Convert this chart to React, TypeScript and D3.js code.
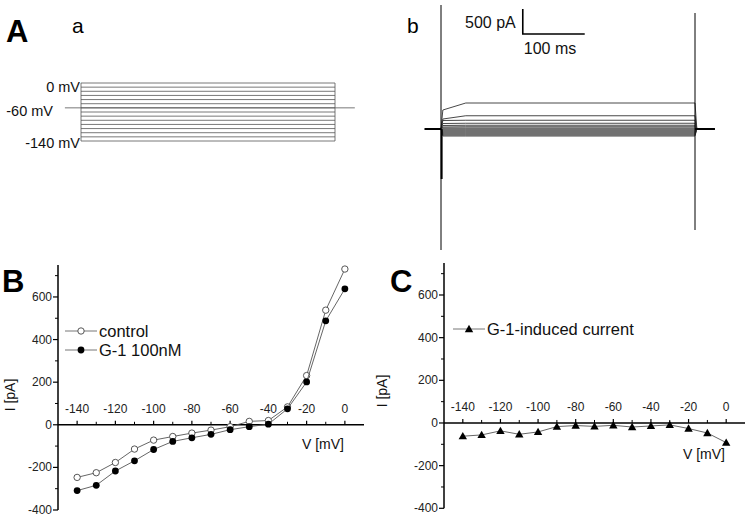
import React from 'react';
import * as d3 from 'd3';

// voltage steps of the protocol (mV)
const stepVoltages = [0, -10, -20, -30, -40, -50, -60, -70, -80, -90, -100, -110, -120, -130, -140];
const holdingVoltage = -60;

// current traces (pA): initial value after onset and steady-state value, one per step
const traceInitial = [380, 200, 170, 110, 70, 40, 20, 0, -20, -40, -60, -80, -100, -120, -140];
const traceSteady = [520, 265, 175, 115, 75, 45, 20, 0, -20, -40, -60, -80, -100, -120, -140];

// capacitive transients: [time ms, top pA, bottom pA]
const transients = [
  [0, 2480, -2420],
  [410, 2320, -2020],
];

// I-V data
const voltages = [-140, -130, -120, -110, -100, -90, -80, -70, -60, -50, -40, -30, -20, -10, 0];
const controlI = [-247, -225, -177, -114, -72, -55, -39, -25, -9, 16, 20, 84, 231, 538, 731];
const g1I = [-309, -284, -217, -169, -116, -78, -61, -45, -23, -9, 3, 75, 201, 488, 638];
const inducedI = [-62, -56, -37, -53, -42, -17, -12, -16, -11, -19, -14, -9, -26, -47, -92];

const yMajor = [-400, -200, 0, 200, 400, 600];
const yMinor = [-300, -100, 100, 300, 500, 700];
const xMajor = [-140, -120, -100, -80, -60, -40, -20, 0];
const xMinor = [-130, -110, -90, -70, -50, -30, -10];

const FONT = 'Liberation Sans, Arial, sans-serif';

type IVProps = {
  x0: number; x1: number; yTop: number; yBot: number;
  series: { values: number[]; marker: 'open' | 'filled' | 'tri' }[];
  label: string; letterX: number;
  ylabX: number; ylabY: number; vX: number; vY: number;
  legend: { x: number; y: number; text: string; marker: 'open' | 'filled' | 'tri' }[];
};

const Marker = ({ x, y, kind }: { x: number; y: number; kind: string }) => {
  if (kind === 'tri') {
    const s = 4.2;
    return <path d={`M${x},${y - s} L${x + s},${y + s * 0.75} L${x - s},${y + s * 0.75} Z`} fill="#000" />;
  }
  if (kind === 'open') return <circle cx={x} cy={y} r={3.2} fill="#fff" stroke="#444" strokeWidth={0.9} />;
  return <circle cx={x} cy={y} r={3.4} fill="#000" />;
};

const IVPlot = (p: IVProps) => {
  const x = d3.scaleLinear().domain([-150, 10]).range([p.x0, p.x1]);
  const y = d3.scaleLinear().domain([-400, 750]).range([p.yBot, p.yTop]);
  const line = d3.line<number>().x((_, i) => x(voltages[i])).y((d) => y(d));
  const y0 = y(0);
  return (
    <g fontFamily={FONT}>
      {/* y axis */}
      <line x1={p.x0} x2={p.x0} y1={p.yTop} y2={y(-400)} stroke="#000" strokeWidth={1.5} />
      {yMajor.map((v) => (
        <g key={v}>
          <line x1={p.x0 - 5} x2={p.x0} y1={y(v)} y2={y(v)} stroke="#000" strokeWidth={1.2} />
          <text x={p.x0 - 6} y={y(v) + 4} fontSize={12} textAnchor="end" fill="#222">{v}</text>
        </g>
      ))}
      {yMinor.map((v) => (
        <line key={v} x1={p.x0 - 3} x2={p.x0} y1={y(v)} y2={y(v)} stroke="#000" strokeWidth={1} />
      ))}
      {/* x axis at zero */}
      <line x1={p.x0} x2={p.x1} y1={y0} y2={y0} stroke="#000" strokeWidth={1.5} />
      {xMajor.map((v) => (
        <g key={v}>
          <line x1={x(v)} x2={x(v)} y1={y0} y2={y0 - 4} stroke="#000" strokeWidth={1.2} />
          <text x={x(v)} y={y0 - 12} fontSize={12} textAnchor="middle" fill="#222">{v}</text>
        </g>
      ))}
      {xMinor.map((v) => (
        <line key={v} x1={x(v)} x2={x(v)} y1={y0} y2={y0 - 3} stroke="#000" strokeWidth={1} />
      ))}
      {p.series.map((s, si) => (
        <g key={si}>
          <path d={line(s.values) || ''} fill="none" stroke="#555" strokeWidth={0.9} />
          {s.values.map((v, i) => (
            <Marker key={i} x={x(voltages[i])} y={y(v)} kind={s.marker} />
          ))}
        </g>
      ))}
      {p.legend.map((l, i) => (
        <g key={i}>
          <line x1={l.x} x2={l.x + 32} y1={l.y} y2={l.y} stroke="#777" strokeWidth={1} />
          <Marker x={l.x + 16} y={l.y} kind={l.marker} />
          <text x={l.x + 34} y={l.y + 6} fontSize={16.5} fill="#111">{l.text}</text>
        </g>
      ))}
      <text x={p.letterX} y={292} fontSize={31} fontWeight="bold" fill="#000">{p.label}</text>
      <text transform={`translate(${p.ylabX},${p.ylabY}) rotate(-90)`} fontSize={14} textAnchor="middle" fill="#111">I [pA]</text>
      <text x={p.vX} y={p.vY} fontSize={14} textAnchor="middle" fill="#111">V [mV]</text>
    </g>
  );
};

export default function App() {
  // panel A-a: protocol
  const tA = d3.scaleLinear().domain([0, 410]).range([81, 335]);
  const vA = d3.scaleLinear().domain([-140, 0]).range([141, 83]);
  // panel A-b: currents
  const tB = d3.scaleLinear().domain([0, 410]).range([441, 695]);
  const iB = d3.scaleLinear().domain([0, 500]).range([129, 104]);
  const traceLine = d3.line<[number, number]>().x((d) => tB(d[0])).y((d) => iB(d[1]));

  const barT = 132;
  const barI = 1900;

  return (
    <svg width={752} height={520} style={{ position: 'absolute', left: 0, top: 0, background: '#fff' }}>
      <rect width={752} height={520} fill="#fff" />
      <g fontFamily={FONT}>
        <text x={6} y={42} fontSize={31} fontWeight="bold">A</text>
        <text x={72} y={33} fontSize={21}>a</text>
        <text x={407} y={33} fontSize={21}>b</text>

        {/* protocol */}
        <line x1={tA(-26)} x2={tA(442)} y1={vA(holdingVoltage)} y2={vA(holdingVoltage)} stroke="#777" strokeWidth={1} />
        {stepVoltages.map((v) => (
          <line key={v} x1={tA(0)} x2={tA(410)} y1={vA(v)} y2={vA(v)} stroke="#555" strokeWidth={0.8} />
        ))}
        <line x1={tA(0)} x2={tA(0)} y1={vA(0)} y2={vA(-140)} stroke="#555" strokeWidth={0.8} />
        <line x1={tA(410)} x2={tA(410)} y1={vA(0)} y2={vA(-140)} stroke="#555" strokeWidth={0.8} />
        <text x={80} y={92} fontSize={14.5} textAnchor="end" fill="#111">0 mV</text>
        <text x={53} y={116} fontSize={14.5} textAnchor="end" fill="#111">-60 mV</text>
        <text x={80} y={148} fontSize={14.5} textAnchor="end" fill="#111">-140 mV</text>

        {/* current traces */}
        {traceSteady.map((s, i) => (
          <path
            key={i}
            d={traceLine([
              [-26, 0], [0, 0], [3, traceInitial[i]], [40, s], [410, s], [413, 0], [442, 0],
            ]) || ''}
            fill="none"
            stroke="#333"
            strokeWidth={0.9}
          />
        ))}
        <line x1={tB(-26)} x2={tB(0)} y1={iB(0)} y2={iB(0)} stroke="#000" strokeWidth={2} />
        <line x1={tB(410)} x2={tB(442)} y1={iB(0)} y2={iB(0)} stroke="#000" strokeWidth={2} />
        <line x1={tB(1)} x2={tB(1)} y1={iB(0)} y2={iB(-1000)} stroke="#000" strokeWidth={2} />
        {transients.map((t, i) => (
          <line key={i} x1={tB(t[0])} x2={tB(t[0])} y1={iB(t[1])} y2={iB(t[2])} stroke="#000" strokeWidth={1} />
        ))}
        {/* scale bar */}
        <path
          d={`M${tB(barT)},${iB(barI + 500)} L${tB(barT)},${iB(barI)} L${tB(barT + 100)},${iB(barI)}`}
          fill="none"
          stroke="#000"
          strokeWidth={1.6}
        />
        <text x={tB(barT) - 7} y={28} fontSize={16} textAnchor="end" fill="#111">500 pA</text>
        <text x={tB(barT) + 1} y={54} fontSize={16} fill="#111">100 ms</text>
      </g>

      <IVPlot
        x0={58} x1={364} yTop={265} yBot={510}
        series={[
          { values: controlI, marker: 'open' },
          { values: g1I, marker: 'filled' },
        ]}
        label="B" letterX={2}
        ylabX={15} ylabY={395} vX={323} vY={449}
        legend={[
          { x: 65, y: 331, text: 'control', marker: 'open' },
          { x: 65, y: 350, text: 'G-1 100nM', marker: 'filled' },
        ]}
      />
      <IVPlot
        x0={444} x1={745} yTop={263} yBot={508.3}
        series={[{ values: inducedI, marker: 'tri' }]}
        label="C" letterX={390}
        ylabX={387} ylabY={391} vX={704} vY={459}
        legend={[{ x: 453, y: 329, text: 'G-1-induced current', marker: 'tri' }]}
      />
    </svg>
  );
}
